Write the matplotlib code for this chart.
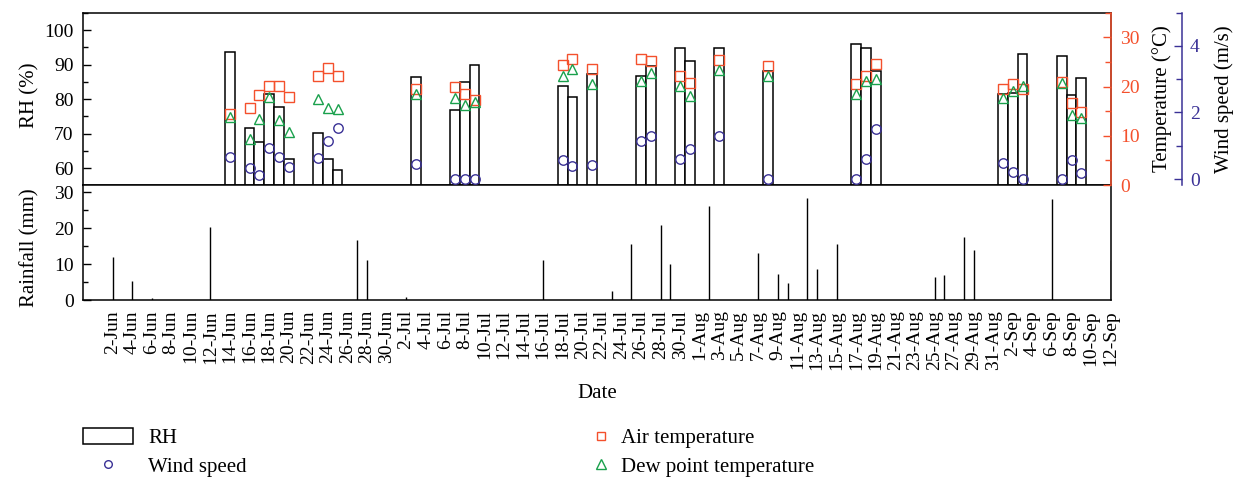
import matplotlib
matplotlib.use('Agg')
import matplotlib.pyplot as plt
import matplotlib.dates as mdates
import pandas as pd
from matplotlib.lines import Line2D
from matplotlib.patches import Patch
from matplotlib.ticker import MultipleLocator

plt.rcParams['font.family'] = ['Liberation Serif', 'DejaVu Serif']
plt.rcParams['font.size'] = 14

YEAR = '2015-'

obs_dates = ['06-14', '06-16', '06-17', '06-18', '06-19', '06-20', '06-23', '06-24', '06-25',
             '07-03', '07-07', '07-08', '07-09', '07-18', '07-19', '07-21', '07-26', '07-27',
             '07-30', '07-31', '08-03', '08-08', '08-17', '08-18', '08-19', '09-01', '09-02',
             '09-03', '09-07', '09-08', '09-09']
rh = [93.6, 71.7, 67.6, 81.6, 77.8, 62.6, 70.2, 62.6, 59.5,
      86.4, 77.0, 85.1, 90.0, 83.9, 80.5, 87.3, 86.7, 89.6,
      94.9, 91.0, 94.9, 88.2, 96.0, 94.9, 88.1, 81.5, 81.8,
      93.0, 92.5, 81.1, 86.0]
air_temp = [14.5, 15.6, 18.3, 20.1, 20.1, 17.9, 22.2, 23.7, 22.2,
            19.5, 19.9, 18.5, 17.2, 24.3, 25.6, 23.6, 25.5, 25.2,
            22.2, 20.7, 25.4, 24.1, 20.5, 22.1, 24.5, 19.5, 20.6,
            19.4, 20.9, 16.6, 14.9]
dew_point = [13.8, 9.3, 13.5, 17.8, 13.2, 10.75, 17.4, 15.7, 15.4,
             18.4, 17.6, 16.3, 16.8, 22.1, 23.5, 20.5, 21.2, 22.7,
             20.2, 18.1, 23.3, 22.1, 18.5, 21.2, 21.6, 17.6, 19.1,
             20.1, 20.7, 14.3, 13.6]
wind_speed = [0.67, 0.32, 0.13, 0.92, 0.66, 0.37, 0.63, 1.13, 1.52,
              0.46, 0.0, 0.0, 0.0, 0.56, 0.39, 0.43, 1.15, 1.30,
              0.61, 0.89, 1.30, 0.0, 0.0, 0.60, 1.50, 0.48, 0.2,
              0.0, 0.0, 0.56, 0.18]

rain_dates = ['06-02', '06-04', '06-06', '06-12', '06-21', '06-27', '06-28', '06-30', '07-02',
              '07-16', '07-23', '07-25', '07-28', '07-29', '08-02', '08-07', '08-09', '08-10',
              '08-12', '08-13', '08-15', '08-25', '08-26', '08-28', '08-29', '09-06', '09-12']
rainfall = [12.0, 5.4, 0.55, 20.3, 0.2, 16.7, 11.2, 0.2, 0.9,
            11.3, 2.5, 15.6, 21.0, 10.1, 26.1, 13.0, 7.3, 4.7,
            28.3, 8.7, 15.6, 6.6, 7.0, 17.6, 14.0, 28.1, 11.2]

RED = '#f4502c'
GREEN = '#19a04c'
BLUE = '#3a3196'

x_obs = pd.to_datetime([YEAR + d for d in obs_dates])
x_rain = pd.to_datetime([YEAR + d for d in rain_dates])
tick_dates = pd.date_range(YEAR + '06-02', YEAR + '09-12', freq='2D')
tick_labels = [f"{d.day}-{d.strftime('%b')}" for d in tick_dates]

fig = plt.figure(figsize=(12.42, 4.8), dpi=100)
L, W = 0.0672, 0.82705
ax = fig.add_axes([L, 0.61458, W, 0.35896])
axr = fig.add_axes([L, 0.37437, W, 0.24021], sharex=ax)

# RH bars
ax.bar(x_obs, rh, width=1.0, bottom=0, facecolor='white', edgecolor='black', linewidth=1.1)
ax.set_ylim(55.2, 105)
ax.yaxis.set_major_locator(MultipleLocator(10))
ax.yaxis.set_minor_locator(MultipleLocator(5))
ax.tick_params(axis='y', which='major', direction='in', length=6, width=1, pad=7, labelsize=14)
ax.tick_params(axis='y', which='minor', direction='in', length=3.5, width=1)
ax.tick_params(axis='x', which='both', length=0, labelbottom=False)
for s in ax.spines.values():
    s.set_linewidth(1.1)

# temperature axis
axt = ax.twinx()
axt.plot(x_obs, air_temp, linestyle='none', marker='s', markersize=7, markerfacecolor='none',
         markeredgecolor=RED, markeredgewidth=1.0)
axt.plot(x_obs, dew_point, linestyle='none', marker='^', markersize=7.5, markerfacecolor='none',
         markeredgecolor=GREEN, markeredgewidth=1.0)
axt.set_ylim(0, 35)
axt.yaxis.set_major_locator(MultipleLocator(10))
axt.yaxis.set_minor_locator(MultipleLocator(5))
axt.tick_params(axis='y', which='major', direction='in', length=6, width=1, pad=7,
                colors=RED, labelsize=14)
axt.tick_params(axis='y', which='minor', direction='in', length=4, width=1, colors=RED)
axt.spines['right'].set_color(RED)
axt.spines['right'].set_linewidth(1.1)

# wind axis
axw = ax.twinx()
axw.spines['right'].set_position(('axes', 1.0691))
axw.plot(x_obs, wind_speed, linestyle='none', marker='o', markersize=6.8, markerfacecolor='none',
         markeredgecolor=BLUE, markeredgewidth=1.0)
axw.set_ylim(-0.18, 5)
axw.yaxis.set_major_locator(MultipleLocator(2))
axw.yaxis.set_minor_locator(MultipleLocator(1))
axw.tick_params(axis='y', which='major', direction='in', length=6, width=1, pad=6,
                colors=BLUE, labelsize=14)
axw.tick_params(axis='y', which='minor', direction='in', length=4, width=1, colors=BLUE)
axw.spines['right'].set_color(BLUE)
axw.spines['right'].set_linewidth(1.1)
for nm in ['left', 'top', 'bottom']:
    axw.spines[nm].set_visible(False)
    axt.spines[nm].set_visible(False)

# rainfall
axr.vlines(x_rain, 0, rainfall, color='black', linewidth=1.0)
axr.set_ylim(0, 32)
axr.yaxis.set_major_locator(MultipleLocator(10))
axr.yaxis.set_minor_locator(MultipleLocator(5))
axr.tick_params(axis='y', which='major', direction='in', length=6, width=1, pad=7, labelsize=14)
axr.tick_params(axis='y', which='minor', direction='in', length=3.5, width=1)
axr.set_xticks(tick_dates)
axr.set_xticklabels(tick_labels, rotation=90, fontsize=14)
axr.tick_params(axis='x', length=0, pad=7)
axr.set_xlim(mdates.date2num(pd.Timestamp(YEAR + '06-02')) - 2.97,
             mdates.date2num(pd.Timestamp(YEAR + '09-12')))
for s in axr.spines.values():
    s.set_linewidth(1.1)

# labels
fig.text(30 / 1242, 1 - 95 / 480, 'RH (%)', rotation=90, ha='center', va='center', fontsize=15)
fig.text(30 / 1242, 1 - 248 / 480, 'Rainfall (mm)', rotation=90, ha='center', va='center', fontsize=15)
fig.text(1162 / 1242, 1 - 99 / 480, 'Temperature (°C)', rotation=90, ha='center', va='center', fontsize=15)
fig.text(1224 / 1242, 1 - 99 / 480, 'Wind speed (m/s)', rotation=90, ha='center', va='center', fontsize=15)
fig.text(597 / 1242, 1 - 393 / 480, 'Date', ha='center', va='center', fontsize=15)

# legends
h_left = [Patch(facecolor='white', edgecolor='black', linewidth=1.1),
          Line2D([], [], linestyle='none', marker='o', markersize=5.5, markerfacecolor='none',
                 markeredgecolor=BLUE, markeredgewidth=1.0)]
leg1 = fig.legend(h_left, ['RH', 'Wind speed'], loc='upper left',
                  bbox_to_anchor=(83 / 1242, 1 - 428 / 480), frameon=False, fontsize=15,
                  handlelength=2.4, handleheight=0.8, handletextpad=0.72, labelspacing=0.4,
                  borderpad=0, borderaxespad=0)
h_right = [Line2D([], [], linestyle='none', marker='s', markersize=6, markerfacecolor='none',
                  markeredgecolor=RED, markeredgewidth=1.0),
           Line2D([], [], linestyle='none', marker='^', markersize=6.5, markerfacecolor='none',
                  markeredgecolor=GREEN, markeredgewidth=1.0)]
leg2 = fig.legend(h_right, ['Air temperature', 'Dew point temperature'], loc='upper left',
                  bbox_to_anchor=(591 / 1242, 1 - 428 / 480), frameon=False, fontsize=15,
                  handlelength=1.0, handleheight=0.8, handletextpad=0.45, labelspacing=0.4,
                  borderpad=0, borderaxespad=0)

fig.savefig('out.png', dpi=100)
